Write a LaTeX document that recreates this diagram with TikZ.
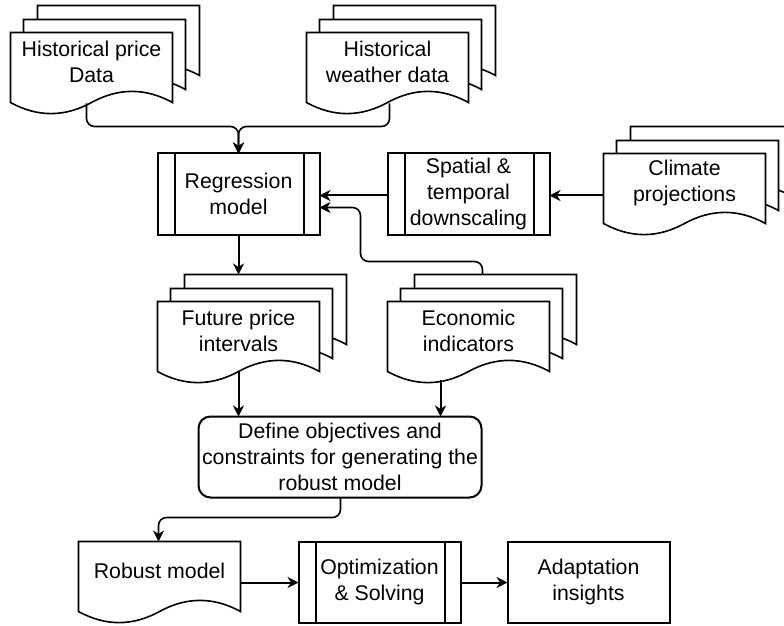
\documentclass[tikz,border=0pt]{standalone}
\usepackage{fontspec}
\setmainfont{Liberation Sans}
\usetikzlibrary{arrows.meta,calc,positioning,backgrounds}
\tikzstyle{txt}=[font=\fontsize{21.3pt}{26pt}\selectfont,align=center,inner sep=2pt,outer sep=0pt]
\tikzstyle{doc}=[txt,minimum width=162pt,minimum height=58pt]
\tikzstyle{proc}=[txt,draw,minimum width=162pt,minimum height=81pt]
\tikzstyle{rbox}=[txt,draw,rounded corners=12pt,minimum width=283pt,minimum height=81pt]
\tikzstyle{outbox}=[txt,draw,minimum width=162pt,minimum height=81pt]
% document outline under a doc node, #2 = offset of the copy
\newcommand{\docshape}[2]{%
  \draw[fill=white,line width=1.6pt] (#1.north west) ++(#2) -- ++(162pt,0) -- ++(0,-70pt)
    .. controls +(-27pt,14.8pt) and +(27pt,14.8pt) .. ++(-81pt,0)
    .. controls +(-27pt,-14.8pt) and +(27pt,-14.8pt) .. ++(-81pt,0) -- cycle;}
\newcommand{\multidoc}[1]{\docshape{#1}{27pt,27pt}\docshape{#1}{13pt,13pt}\docshape{#1}{0pt,0pt}}
% inner bars of a process box
\newcommand{\procbars}[1]{%
  \draw ([xshift=17pt]#1.north west) -- ([xshift=17pt]#1.south west)
        ([xshift=-16pt]#1.north east) -- ([xshift=-16pt]#1.south east);}

\begin{document}
\begin{tikzpicture}[>={Stealth[length=11pt,width=11pt,inset=3.5pt]},line width=2pt,on grid]
    \useasboundingbox (0,0) rectangle (784pt,625pt);
    \node [proc] (regression) at (238.5pt,431pt) {Regression\\model};
    \node [doc] (price) [above left=132.5pt and 147pt of regression] {Historical price\\Data};
    \node [doc] (weather) [right=296pt of price] {Historical\\weather data};
    \node [proc] (spatial) [right=230pt of regression] {Spatial \&\\temporal\\downscaling};
    \node [doc] (climate) [above right=11.5pt and 216pt of spatial] {Climate\\projections};
    \node [doc] (future) [below=136.5pt of regression] {Future price\\intervals};
    \node [doc] (economic) [right=230pt of future] {Economic\\indicators};
    \node [rbox] (define) [below right=126.5pt and 101.5pt of future] {Define objectives and\\constraints for generating the\\robust model};
    \node [doc] (robust) [below left=113.5pt and 180.5pt of define] {Robust model};
    \node [proc] (optim) [below right=11.5pt and 220pt of robust] {Optimization\\\& Solving};
    \node [outbox] (adapt) [right=209pt of optim] {Adaptation\\insights};

    \procbars{regression}
    \procbars{spatial}
    \procbars{optim}
    \begin{scope}[on background layer]
      \multidoc{price}
      \multidoc{weather}
      \multidoc{climate}
      \multidoc{future}
      \multidoc{economic}
      \docshape{robust}{0pt,0pt}
    \end{scope}

    \draw[->,rounded corners=8pt,line width=1.6pt] ($(price.north)+(-5pt,-71pt)$) |- ($(regression.north)+(0,27pt)$) -- (regression.north);
    \draw[->,rounded corners=8pt,line width=1.6pt] ($(weather.north)+(2pt,-71pt)$) |- ($(regression.north)+(0,27pt)$) -- (regression.north);
    \draw[->] ([yshift=-1.5pt]spatial.west) -- ([yshift=-1.5pt]regression.east);
    \draw[->] ($(climate.west |- spatial.east)+(0,-1.5pt)$) -- ([yshift=-1.5pt]spatial.east);
    \draw[->] (regression.south) -- ($(future.north)+(0,27pt)$);
    \draw[->,rounded corners=8pt,line width=1.6pt] ($(economic.north)+(14pt,27pt)$) -- ++(0,13pt) -| ($(regression.east)+(41pt,-13.5pt)$) -- ($(regression.east)+(0,-13.5pt)$);
    \draw[->] ($(future.north)+(0,-70pt)$) -- (future.north |- define.north);
    \draw[->] ($(economic.north)+(-28pt,-78pt)$) coordinate (econout) -- (econout |- define.north);
    \draw[->,rounded corners=8pt,line width=1.6pt] ([xshift=0.5pt]define.south) |- ($(robust.north)+(-1pt,24pt)$) -- ($(robust.north)+(-1pt,0)$);
    \draw[->] ($(robust.east |- optim.west)+(0,-0.5pt)$) -- ([yshift=-0.5pt]optim.west);
    \draw[->] ([yshift=-0.5pt]optim.east) -- ([yshift=-0.5pt]adapt.west);
\end{tikzpicture}
\end{document}
